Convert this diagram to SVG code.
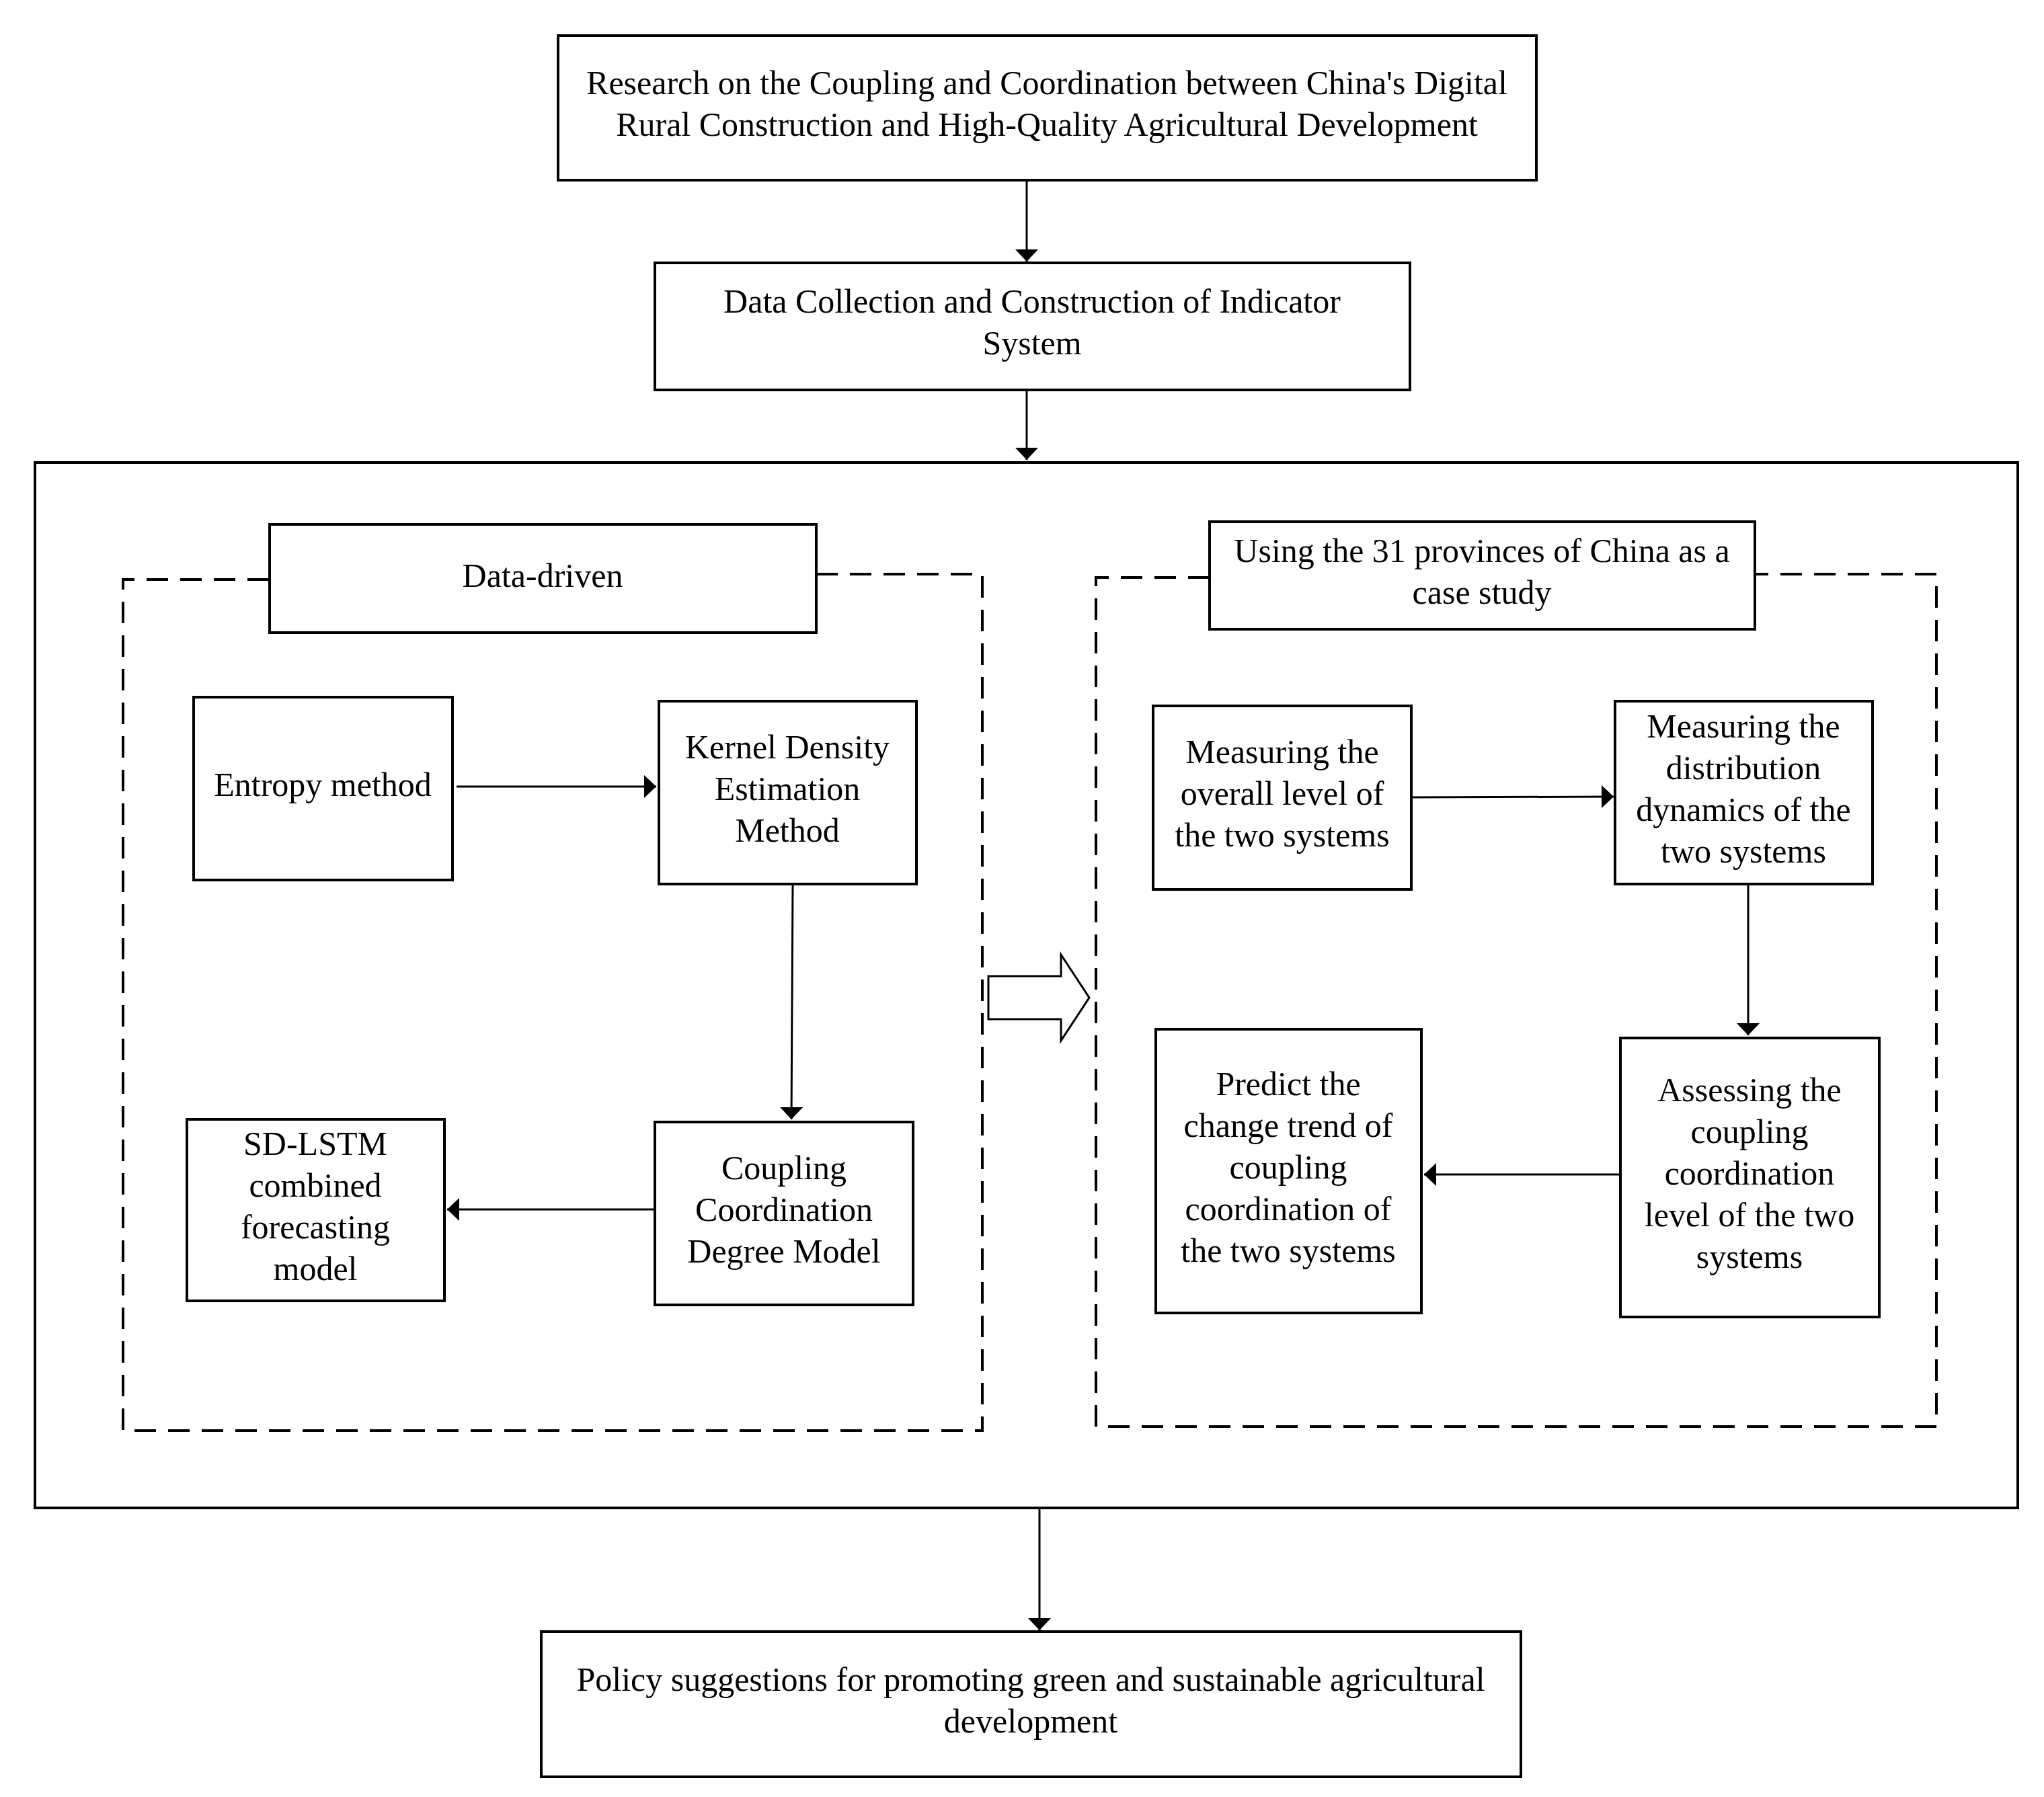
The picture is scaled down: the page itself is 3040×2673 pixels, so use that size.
<svg xmlns="http://www.w3.org/2000/svg" width="3040" height="2673" viewBox="0 0 3040 2673">
<style>
.box{fill:#fff;stroke:#000;stroke-width:4}
.big{fill:none;stroke:#000;stroke-width:4}
.dash{fill:none;stroke:#000;stroke-width:4;stroke-dasharray:32 18}
.con{fill:none;stroke:#000;stroke-width:3}
text{font-family:"Liberation Serif","Times New Roman",serif;font-size:50px;fill:#000;text-anchor:middle}
</style>
<defs>
<marker id="ah" markerUnits="userSpaceOnUse" markerWidth="20" markerHeight="36" refX="18" refY="17" orient="auto">
<path d="M0,0 L18,17 L0,34 Z" fill="#000"/>
</marker>
</defs>
<rect width="3040" height="2673" fill="#fff"/>
<g id="outer"><rect class="big" x="52" y="688" width="2949" height="1555"/></g>
<g id="group-left">
<path class="dash" d="M400,862 H183 V2128 H1461 V854 H1214"/>
</g>
<g id="group-right">
<path class="dash" d="M1799,859 H1630 V2122 H2880 V854 H2612"/>
</g>
<g id="connectors">
<line class="con" x1="1527" y1="268" x2="1527" y2="389" marker-end="url(#ah)"/>
<line class="con" x1="1527" y1="580" x2="1527" y2="684" marker-end="url(#ah)"/>
<line class="con" x1="679" y1="1170" x2="976" y2="1170" marker-end="url(#ah)"/>
<line class="con" x1="1179" y1="1317" x2="1177" y2="1665" marker-end="url(#ah)"/>
<line class="con" x1="974" y1="1799" x2="665" y2="1799" marker-end="url(#ah)"/>
<line class="con" x1="2101" y1="1186" x2="2400" y2="1185" marker-end="url(#ah)"/>
<line class="con" x1="2600" y1="1317" x2="2600" y2="1540" marker-end="url(#ah)"/>
<line class="con" x1="2408" y1="1747" x2="2118" y2="1747" marker-end="url(#ah)"/>
<line class="con" x1="1546" y1="2243" x2="1546" y2="2425" marker-end="url(#ah)"/>
<path class="con" d="M1470,1452 H1578 V1420 L1620,1484 L1578,1548 V1516 H1470 Z" fill="#fff"/>
</g>
<g id="n-top"><rect class="box" x="830" y="53" width="1455" height="215"/>
<text x="1557" y="140">Research on the Coupling and Coordination between China's Digital</text>
<text x="1557" y="202">Rural Construction and High-Quality Agricultural Development</text></g>
<g id="n-data"><rect class="box" x="974" y="391" width="1123" height="189"/>
<text x="1535" y="465">Data Collection and Construction of Indicator</text>
<text x="1535" y="527">System</text></g>
<g id="n-datadriven"><rect class="box" x="401" y="780" width="813" height="161"/>
<text x="807" y="873">Data-driven</text></g>
<g id="n-entropy"><rect class="box" x="288" y="1037" width="385" height="272"/>
<text x="480" y="1184">Entropy method</text></g>
<g id="n-kernel"><rect class="box" x="980" y="1043" width="383" height="272"/>
<text x="1171" y="1128">Kernel Density</text>
<text x="1171" y="1190">Estimation</text>
<text x="1171" y="1252">Method</text></g>
<g id="n-coupling"><rect class="box" x="974" y="1669" width="384" height="272"/>
<text x="1166" y="1754">Coupling</text>
<text x="1166" y="1816">Coordination</text>
<text x="1166" y="1878">Degree Model</text></g>
<g id="n-sdlstm"><rect class="box" x="278" y="1665" width="383" height="270"/>
<text x="469" y="1718">SD-LSTM</text>
<text x="469" y="1780">combined</text>
<text x="469" y="1842">forecasting</text>
<text x="469" y="1904">model</text></g>
<g id="n-using"><rect class="box" x="1799" y="776" width="811" height="160"/>
<text x="2204" y="836">Using the 31 provinces of China as a</text>
<text x="2204" y="898">case study</text></g>
<g id="n-overall"><rect class="box" x="1715" y="1050" width="384" height="273"/>
<text x="1907" y="1135">Measuring the</text>
<text x="1907" y="1197">overall level of</text>
<text x="1907" y="1259">the two systems</text></g>
<g id="n-dist"><rect class="box" x="2402" y="1043" width="383" height="272"/>
<text x="2593" y="1097">Measuring the</text>
<text x="2593" y="1159">distribution</text>
<text x="2593" y="1221">dynamics of the</text>
<text x="2593" y="1283">two systems</text></g>
<g id="n-assess"><rect class="box" x="2410" y="1544" width="385" height="415"/>
<text x="2602" y="1638">Assessing the</text>
<text x="2602" y="1700">coupling</text>
<text x="2602" y="1762">coordination</text>
<text x="2602" y="1824">level of the two</text>
<text x="2602" y="1886">systems</text></g>
<g id="n-predict"><rect class="box" x="1719" y="1531" width="395" height="422"/>
<text x="1916" y="1629">Predict the</text>
<text x="1916" y="1691">change trend of</text>
<text x="1916" y="1753">coupling</text>
<text x="1916" y="1815">coordination of</text>
<text x="1916" y="1877">the two systems</text></g>
<g id="n-policy"><rect class="box" x="805" y="2427" width="1457" height="216"/>
<text x="1533" y="2515">Policy suggestions for promoting green and sustainable agricultural</text>
<text x="1533" y="2577">development</text></g>
</svg>
